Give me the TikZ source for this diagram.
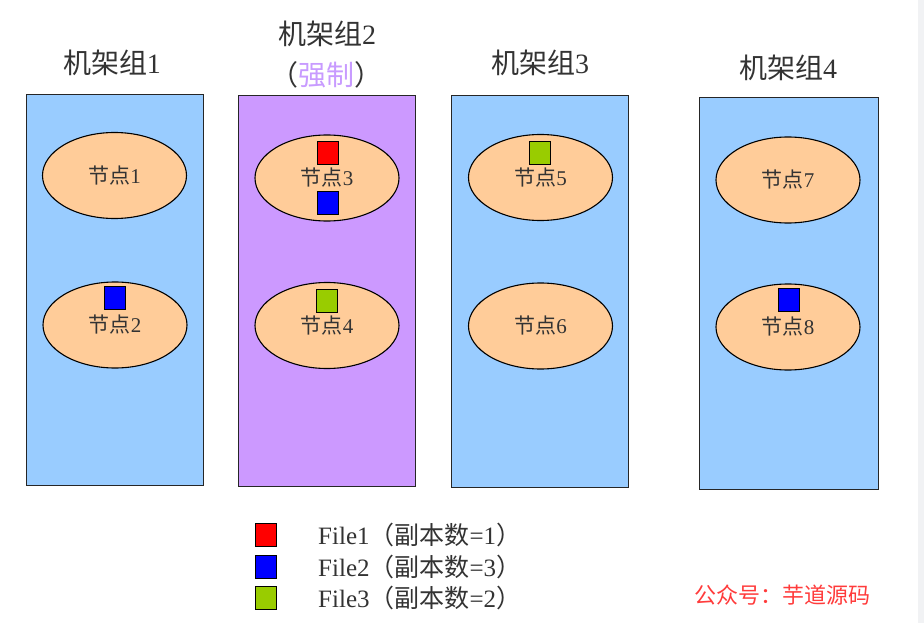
\documentclass[tikz,border=0pt]{standalone}
\usepackage{fontspec}
\setmainfont{Liberation Serif}
\newfontfamily\cj{Noto Sans CJK SC}
\usetikzlibrary{shapes.geometric}
\definecolor{rackblue}{HTML}{99CCFF}
\definecolor{rackpurple}{HTML}{CC99FF}
\definecolor{nodeorange}{HTML}{FFCC99}
\definecolor{fred}{HTML}{FF0000}
\definecolor{fblue}{HTML}{0000FF}
\definecolor{fgreen}{HTML}{99CC00}
\definecolor{txt}{HTML}{333333}
\definecolor{strip}{HTML}{F1F2F4}
\definecolor{wm}{HTML}{FF3B3B}
\definecolor{forced}{HTML}{C89BFF}
\begin{document}
\begin{tikzpicture}[x=1pt,y=-1pt,
  rack/.style={draw=black!85, line width=1.2pt, minimum width=177pt, minimum height=391pt, inner sep=0pt, anchor=north west},
  srv/.style={ellipse, draw=black, line width=1.1pt, fill=nodeorange, minimum width=144pt, minimum height=86pt, inner sep=0pt, font=\fontsize{21}{21}\selectfont, text=txt},
  filebox/.style={draw=black, line width=0.8pt, minimum width=21pt, minimum height=23pt, inner sep=0pt},
  title/.style={font=\fontsize{28}{30}\selectfont, text=txt, inner sep=0pt},
  legendtext/.style={font=\fontsize{25}{27}\selectfont, text=txt, inner sep=0pt, anchor=west}]
\useasboundingbox (0,0) rectangle (924,623);
\fill[white] (0,0) rectangle (924,623);
\fill[strip] (918,0) rectangle (924,623);
% titles
\node[title] (t1) at (112,63) {{\cj 机架组}1};
\node[title] (t2) at (327,34) {{\cj 机架组}2};
\node[title] (t2b) at (326,75) {{\cj （\textcolor{forced}{强制}）}};
\node[title] (t3) at (540,63) {{\cj 机架组}3};
\node[title] (t4) at (788,68) {{\cj 机架组}4};
% racks
\node[rack, fill=rackblue] (r1) at (26,94) {};
\node[rack, fill=rackpurple] (r2) at (238,95) {};
\node[rack, fill=rackblue, minimum height=392pt] (r3) at (451,95) {};
\node[rack, fill=rackblue, minimum width=179pt, minimum height=392pt] (r4) at (699,97) {};
% servers
\node[srv] (n1) at (114.5,175.5) {{\cj 节点}1};
\node[srv] (n2) at (115,325) {{\cj 节点}2};
\node[srv] (n3) at (327,178) {{\cj 节点}3};
\node[srv] (n4) at (327,325.5) {{\cj 节点}4};
\node[srv] (n5) at (540.5,177.5) {{\cj 节点}5};
\node[srv] (n6) at (540.5,326) {{\cj 节点}6};
\node[srv] (n7) at (788,180) {{\cj 节点}7};
\node[srv] (n8) at (788,327) {{\cj 节点}8};
% file replicas
\node[filebox, fill=fred] (f3r) at (328,152.5) {};
\node[filebox, fill=fblue] (f3b) at (328,202.5) {};
\node[filebox, fill=fgreen] (f4g) at (327,301) {};
\node[filebox, fill=fgreen] (f5g) at (539.5,152.5) {};
\node[filebox, fill=fblue] (f2b) at (115,297.5) {};
\node[filebox, fill=fblue] (f8b) at (789,300) {};
% legend
\node[filebox, fill=fred] (l1) at (266,535) {};
\node[filebox, fill=fblue] (l2) at (266,567) {};
\node[filebox, fill=fgreen] (l3) at (266,598) {};
\node[legendtext] (lt1) at (318,535) {File1{\cj （副本数}=1{\cj ）}};
\node[legendtext] (lt2) at (318,567) {File2{\cj （副本数}=3{\cj ）}};
\node[legendtext] (lt3) at (318,598) {File3{\cj （副本数}=2{\cj ）}};
% watermark
\node[font=\fontsize{22}{24}\selectfont\cj, text=wm, inner sep=0pt] (wmk) at (782,595) {公众号：芋道源码};
\end{tikzpicture}
\end{document}
